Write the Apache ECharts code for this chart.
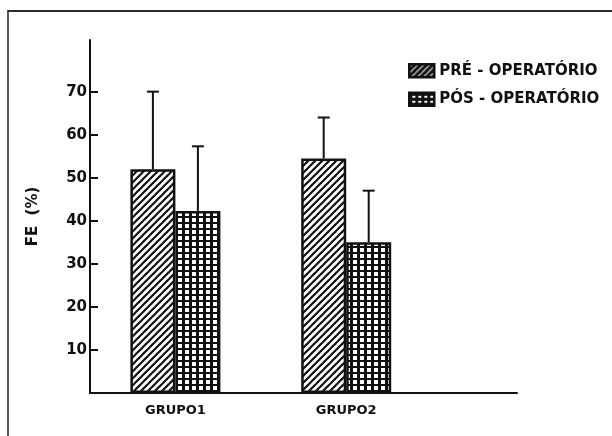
<!DOCTYPE html>
<html>
<head>
<meta charset="utf-8">
<script src="https://cdn.jsdelivr.net/npm/echarts@6/dist/echarts.min.js"></script>
<style>
  html, body { margin: 0; padding: 0; background: #fff; }
  #frame { position: absolute; left: 7px; top: 10px; width: 610px; height: 430px;
           border-top: 2px solid #2a2a2a; border-left: 2px solid #555; }
  #chart { position: absolute; left: 0; top: 0; width: 612px; height: 436px; }
</style>
</head>
<body>
<div id="frame"></div>
<div id="chart"></div>
<script>
// ---- data ----
const categories = ['GRUPO1', 'GRUPO2'];
const categoryPositions = [0.5, 1.5];
const seriesNames = ['PRÉ - OPERATÓRIO', 'PÓS - OPERATÓRIO'];
const preValues = [52, 54.5];
const preUpper = [70, 64];
const postValues = [42.3, 35];
const postUpper = [57.3, 47];
const yTicks = [10, 20, 30, 40, 50, 60, 70];

// ---- patterns ----
function hatchPattern(size, lw) {
  const s = size;
  const c = document.createElement('canvas');
  c.width = s; c.height = s;
  const g = c.getContext('2d');
  g.fillStyle = '#fff'; g.fillRect(0, 0, s, s);
  g.strokeStyle = '#111'; g.lineWidth = lw;
  for (const o of [-s, 0, s]) {
    g.beginPath(); g.moveTo(o - 1, s + 1); g.lineTo(o + s + 1, -1); g.stroke();
  }
  return { image: c, repeat: 'repeat' };
}
function gridPattern(w, h, cw, ch) {
  const c = document.createElement('canvas');
  c.width = w; c.height = h;
  const g = c.getContext('2d');
  g.fillStyle = '#111'; g.fillRect(0, 0, w, h);
  g.fillStyle = '#fff'; g.fillRect(w - cw, h - ch, cw, ch);
  return { image: c, repeat: 'repeat' };
}

const BAR_W = 45;
const FONT = 'DejaVu Sans';

function errSeries(values, upper, offset) {
  return {
    type: 'custom',
    coordinateSystem: 'cartesian2d',
    silent: true,
    z: 5,
    data: categoryPositions.map((x, i) => [x, values[i], upper[i]]),
    encode: { x: 0, y: [1, 2] },
    renderItem: function (params, api) {
      const x = api.value(0);
      const p0 = api.coord([x, api.value(1)]);
      const p1 = api.coord([x, api.value(2)]);
      const cx = p0[0] + offset;
      const style = { stroke: '#111', lineWidth: 2 };
      return {
        type: 'group',
        children: [
          { type: 'line', shape: { x1: cx, y1: p0[1], x2: cx, y2: p1[1] }, style: style },
          { type: 'line', shape: { x1: cx - 6, y1: p1[1], x2: cx + 6, y2: p1[1] }, style: style }
        ]
      };
    }
  };
}

const chart = echarts.init(document.getElementById('chart'), null, { renderer: 'canvas' });
chart.setOption({
  animation: false,
  backgroundColor: 'transparent',
  textStyle: { fontFamily: FONT },
  grid: { left: 90, right: 95, top: 40, bottom: 43, containLabel: false },
  legend: {
    data: [
      { name: seriesNames[0], itemStyle: { color: hatchPattern(6, 3.2), borderColor: '#111', borderWidth: 2.5 } },
      { name: seriesNames[1], itemStyle: { color: gridPattern(6, 5, 3, 2), borderColor: '#111', borderWidth: 2.5 } }
    ],
    orient: 'vertical',
    left: 408, top: 63,
    padding: 0,
    itemWidth: 25, itemHeight: 13, itemGap: 13,
    icon: 'rect',
    textStyle: { fontFamily: FONT, fontSize: 15, fontWeight: 'bold', color: '#111', padding: [0, 0, 0, 0] }
  },
  xAxis: {
    type: 'value',
    min: 0, max: 2.5,
    splitLine: { show: false },
    axisLine: { show: true, lineStyle: { color: '#111', width: 2 } },
    axisTick: { show: false },
    axisLabel: {
      customValues: categoryPositions,
      formatter: function (v) {
        const i = categoryPositions.indexOf(v);
        return i >= 0 ? categories[i] : '';
      },
      margin: 11,
      fontFamily: FONT, fontSize: 13, fontWeight: 'bold', color: '#111'
    }
  },
  yAxis: {
    type: 'value',
    min: 0, max: 82,
    name: 'FE  (%)',
    nameLocation: 'middle',
    nameGap: 49,
    nameTextStyle: { fontFamily: FONT, fontSize: 15, fontWeight: 'bold', color: '#111' },
    splitLine: { show: false },
    axisLine: { show: true, lineStyle: { color: '#111', width: 2 } },
    axisTick: { show: true, inside: true, length: 8, customValues: yTicks, lineStyle: { color: '#111', width: 2 } },
    axisLabel: { customValues: yTicks, margin: 3, fontFamily: FONT, fontSize: 15, fontWeight: 'bold', color: '#111' }
  },
  series: [
    {
      name: seriesNames[0],
      type: 'bar',
      barWidth: BAR_W,
      barGap: '0%',
      data: categoryPositions.map((x, i) => [x, preValues[i]]),
      itemStyle: { color: hatchPattern(7, 2.2), borderColor: '#111', borderWidth: 2.5 }
    },
    {
      name: seriesNames[1],
      type: 'bar',
      barWidth: BAR_W,
      barGap: '0%',
      data: categoryPositions.map((x, i) => [x, postValues[i]]),
      itemStyle: { color: gridPattern(7, 6, 4, 4), borderColor: '#111', borderWidth: 2.5 }
    },
    errSeries(preValues, preUpper, -BAR_W / 2),
    errSeries(postValues, postUpper, BAR_W / 2)
  ]
});
</script>
</body>
</html>
